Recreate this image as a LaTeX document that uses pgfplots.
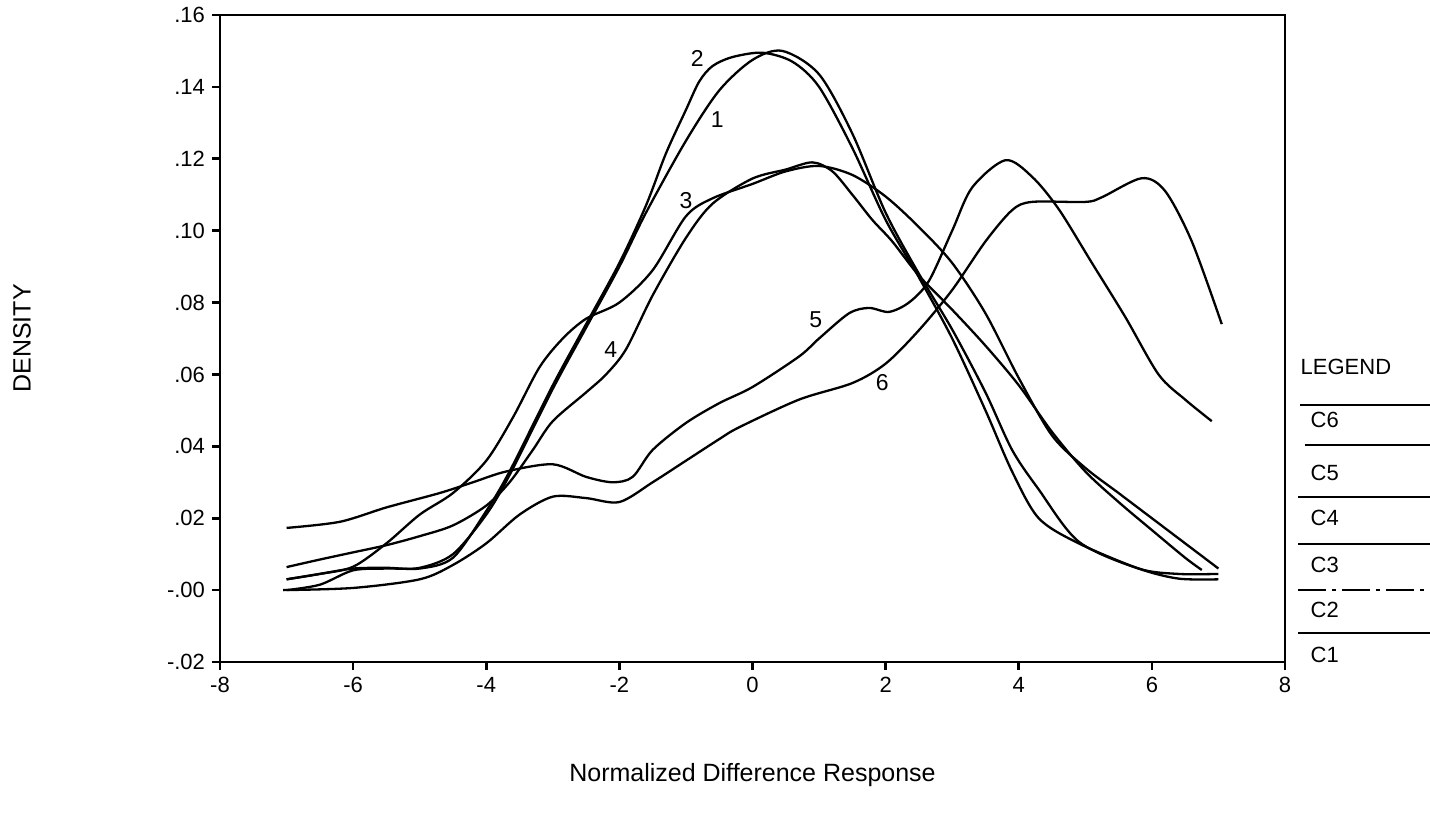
\documentclass[border=0pt]{standalone}
\usepackage{fontspec}
\setmainfont{Liberation Sans}
\usepackage{pgfplots}
\pgfplotsset{compat=1.18}

% density curves
\pgfplotstableread{
x y
-7 0.000
-6.5 0.0015
-6 0.0055
-5.5 0.006
-5 0.0062
-4.5 0.010
-4 0.021
-3.65 0.032
-3 0.056
-2.5 0.073
-2 0.090
-1.6 0.105
-1 0.125
-0.5 0.139
0 0.1475
0.45 0.150
1 0.1435
1.5 0.127
2 0.105
2.5 0.088
3 0.0725
3.5 0.055
3.9 0.039
4.3 0.028
4.9 0.0135
5.8 0.006
6.4 0.0045
7 0.0045
}\cone
\pgfplotstableread{
x y
-7 0.003
-6.5 0.0045
-6 0.006
-5.5 0.0062
-5 0.006
-4.5 0.009
-4 0.022
-3.65 0.033
-3 0.057
-2.5 0.074
-2 0.091
-1.6 0.107
-1.3 0.1215
-1.0 0.1336
-0.8 0.1415
-0.6 0.1458
-0.3 0.1483
0.15 0.1495
0.6 0.147
1 0.140
1.5 0.123
2 0.103
2.5 0.087
3 0.070
3.5 0.050
3.9 0.033
4.3 0.020
4.9 0.013
5.8 0.006
6.4 0.0032
7 0.003
}\ctwo
\pgfplotstableread{
x y
-7 0.003
-6.5 0.0045
-6 0.0065
-5.5 0.013
-5 0.021
-4.5 0.027
-4 0.036
-3.6 0.048
-3.2 0.062
-2.85 0.070
-2.5 0.0755
-2 0.080
-1.5 0.089
-1 0.104
-0.6 0.109
0 0.113
0.5 0.1165
1 0.118
1.5 0.1155
2 0.1095
2.5 0.101
3 0.091
3.5 0.077
4 0.059
4.5 0.043
5 0.034
5.5 0.027
6 0.020
6.5 0.013
7 0.006
}\cthree
\pgfplotstableread{
x y
-7 0.0064
-6.5 0.0085
-6 0.0105
-5.5 0.0125
-5 0.015
-4.5 0.018
-4 0.0235
-3.65 0.030
-3.3 0.039
-3 0.047
-2.5 0.055
-2.2 0.060
-1.9 0.067
-1.5 0.082
-1 0.098
-0.6 0.1075
0 0.1145
0.5 0.117
0.9 0.119
1.2 0.1165
1.5 0.110
1.8 0.103
2.1 0.097
2.5 0.0875
3 0.078
3.5 0.068
4 0.057
4.5 0.044
5 0.033
5.5 0.0245
6 0.0167
6.5 0.009
6.75 0.0056
}\cfour
\pgfplotstableread{
x y
-7 0.0173
-6.2 0.019
-5.5 0.023
-4.7 0.027
-4.2 0.030
-3.7 0.033
-3 0.035
-2.5 0.0315
-2.1 0.030
-1.8 0.0315
-1.5 0.039
-1 0.0465
-0.5 0.052
0 0.0565
0.7 0.065
1.0 0.070
1.45 0.077
1.75 0.0785
2.05 0.0774
2.35 0.080
2.65 0.086
3.0 0.100
3.3 0.112
3.8 0.1196
4.2 0.115
4.6 0.106
5.1 0.091
5.6 0.076
6.1 0.060
6.5 0.053
6.9 0.047
}\cfive
\pgfplotstableread{
x y
-7.05 0.0
-6 0.0006
-5 0.003
-4.5 0.007
-4 0.013
-3.5 0.021
-3 0.026
-2.5 0.0256
-2 0.0245
-1.5 0.030
-1 0.036
-0.5 0.042
-0.2 0.0453
0.7 0.053
1.5 0.0576
2 0.063
2.5 0.0723
3 0.0835
3.5 0.097
3.9 0.1057
4.2 0.108
5.0 0.108
5.25 0.1093
5.85 0.1146
6.2 0.111
6.6 0.097
7.05 0.074
}\csix

\begin{document}
\begin{tikzpicture}[x=1pt,y=1pt]
\path[use as bounding box] (-110,-77.5) rectangle (605,331);
\begin{axis}[
  at={(0,0)}, anchor=south west,
  width=532.5pt, height=323.5pt, scale only axis,
  xmin=-8, xmax=8, ymin=-0.02, ymax=0.16,
  xtick={-8,-6,-4,-2,0,2,4,6,8},
  xticklabels={-8,-6,-4,-2,0,2,4,6,8},
  ytick={-0.02,0,0.02,0.04,0.06,0.08,0.10,0.12,0.14,0.16},
  yticklabels={-.02,-.00,.02,.04,.06,.08,.10,.12,.14,.16},
  tick align=outside, tick pos=left, major tick length=4pt,
  axis line style={line width=1.3pt},
  every tick/.style={line width=1.3pt, black},
  tick label style={font=\fontsize{11}{13}\selectfont},
  clip=false,
  curve/.style={black, mark=none, smooth, line width=1.15pt},
]
\addplot[curve] table {\cone};
\addplot[curve] table {\ctwo};
\addplot[curve] table {\cthree};
\addplot[curve] table {\cfour};
\addplot[curve] table {\cfive};
\addplot[curve] table {\csix};

% curve numbers
\begin{scope}[every node/.style={font=\fontsize{11.5}{13}\selectfont}]
\node at (axis cs:-0.83,0.148) {2};
\node at (axis cs:-0.53,0.1308) {1};
\node at (axis cs:-1.0,0.1085) {3};
\node at (axis cs:-2.13,0.0668) {4};
\node at (axis cs:0.95,0.0751) {5};
\node at (axis cs:1.95,0.0576) {6};
\end{scope}

% axis titles
\node[rotate=90, font=\fontsize{12.5}{14}\selectfont]
  at ([xshift=-99pt]rel axis cs:0,0.5) {DENSITY};
\node[font=\fontsize{12.5}{14}\selectfont]
  at ([yshift=-56.5pt]rel axis cs:0.5,0) {Normalized Difference Response};

% legend box on the right
\begin{scope}[every node/.style={font=\fontsize{11}{13}\selectfont, anchor=west, inner sep=0pt}]
\node at (axis cs:8.23,0.062) {LEGEND};
\draw[line width=0.9pt] (axis cs:8.23,0.0515) -- (axis cs:10.2,0.0515);
\node at (axis cs:8.38,0.0473) {C6};
\draw[line width=0.9pt] (axis cs:8.3,0.0403) -- (axis cs:10.2,0.0403);
\node at (axis cs:8.38,0.0326) {C5};
\draw[line width=0.9pt] (axis cs:8.2,0.0259) -- (axis cs:10.2,0.0259);
\node at (axis cs:8.38,0.020) {C4};
\draw[line width=0.9pt] (axis cs:8.2,0.0128) -- (axis cs:10.2,0.0128);
\node at (axis cs:8.38,0.007) {C3};
\draw[line width=0.9pt, dash pattern=on 14pt off 3pt on 2pt off 3pt]
  (axis cs:8.2,0.0) -- (axis cs:10.2,0.0);
\node at (axis cs:8.38,-0.0056) {C2};
\draw[line width=0.9pt] (axis cs:8.2,-0.012) -- (axis cs:10.2,-0.012);
\node at (axis cs:8.38,-0.018) {C1};
\end{scope}
\end{axis}
\end{tikzpicture}
\end{document}
